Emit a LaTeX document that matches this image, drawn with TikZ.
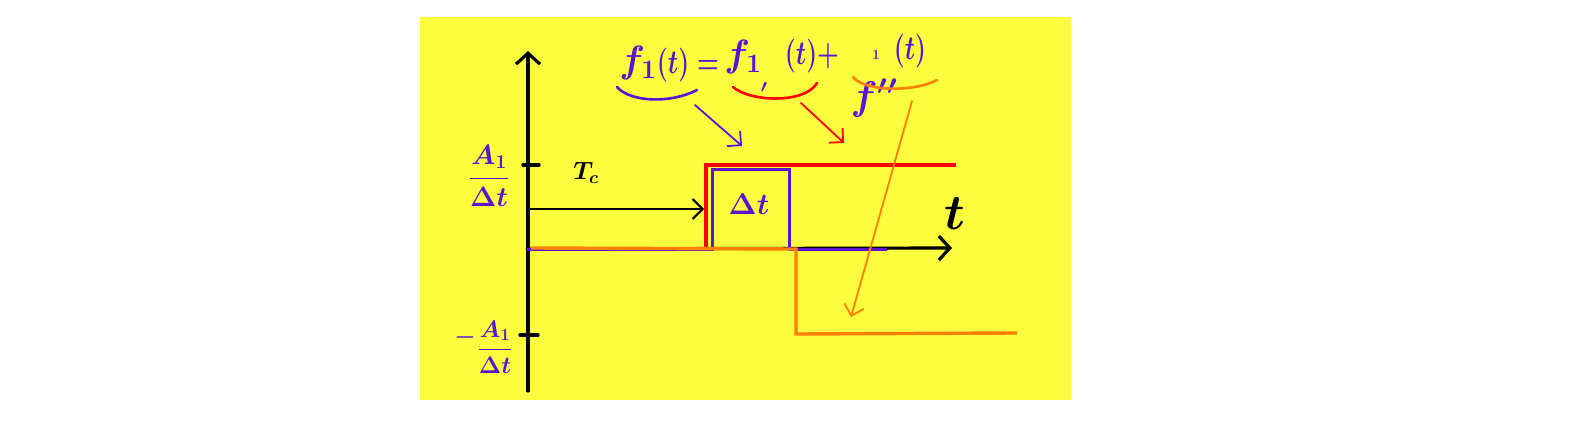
\RequirePackage{fix-cm}
\documentclass[tikz,border=0pt]{standalone}
\usepackage{amsmath}
\usepackage{graphicx}
\usetikzlibrary{arrows.meta}
\definecolor{bg}{HTML}{FDFD40}
\definecolor{pen}{HTML}{5A14D2}
\definecolor{rd}{HTML}{FF0000}
\definecolor{org}{HTML}{FF8000}
\begin{document}
\begin{tikzpicture}[x=1pt,y=-1pt,
  axis/.style={line width=3.2pt,line cap=round,black},
  barb/.style={-{Straight Barb[length=11pt,width=24pt]}},
  smallbarb/.style={-{Straight Barb[length=10pt,width=20pt]}},
  lbl/.style={inner sep=0pt,text=pen,font=\boldmath},
  brace/.style={line width=2.6pt,line cap=round},
  pointer/.style={line width=1.8pt,line cap=round,smallbarb}]
\useasboundingbox (0,0) rectangle (1580,425);
\fill[bg] (420,17) rectangle (1071,400);

% axes
\coordinate (O) at (527,249);
\coordinate (ytop) at (528,51);
\coordinate (ybot) at (528,391);
\coordinate (xend) at (952,248);
\draw[axis,barb] (ybot) -- (ytop);
\draw[axis,barb] (O) -- (xend);
\draw[axis] (523,165) -- (539,165);
\draw[axis] (520,335) -- (538,335);

% pulse f1 (blue)
\draw[pen,line width=3pt] (O) -- (712,249) -- (712,170) -- (789,170) -- (789,249) -- (887,249);
% step f1' (red)
\draw[rd,line width=4.2pt] (706,249) -- (706,165) -- (956,165);
% step f1'' (orange)
\draw[org,line width=3.4pt] (531,248) -- (796,249) -- (796,334) -- (1017,333);

% Tc arrow
\coordinate (tcs) at (528,209);
\coordinate (tce) at (704,209);
\draw[line width=2pt,smallbarb] (tcs) -- (tce);
\node[inner sep=0pt,font=\boldmath] (tc) at (586,173) {\fontsize{25}{27}\selectfont $T_c$};

% labels on axes
\node[lbl] (dt) at (749,204) {\fontsize{30}{32}\selectfont $\Delta t$};
\node[inner sep=0pt,font=\boldmath] (tlab) at (955,214) {\fontsize{50}{52}\selectfont $t$};
\node[lbl] (pA) at (489,176) {\fontsize{28}{30}\selectfont $\dfrac{A_1}{\Delta t}$};
\node[lbl] (mA) at (465,337) {\fontsize{24}{26}\selectfont $-$};
\node[lbl] (nA) at (495,347) {\fontsize{24}{26}\selectfont $\dfrac{A_1}{\Delta t}$};

% formula
\node[lbl] (f1) at (638,63) {\fontsize{38}{40}\selectfont $f_1$};
\node[lbl] (f1t) at (688,65) {\fontsize{25}{27}\selectfont \scalebox{1}[1.35]{$(t)=$}};
\node[lbl] (f2) at (743,57) {\fontsize{38}{40}\selectfont $f_1$};
\node[lbl] (cm) at (764,88) {\fontsize{18}{20}\selectfont $\prime$};
\node[lbl] (f2t) at (812,56) {\fontsize{25}{27}\selectfont \scalebox{1}[1.35]{$(t)+$}};
\node[lbl] (one) at (876,55) {\fontsize{14}{16}\selectfont $1$};
\node[lbl] (f3t) at (910,51) {\fontsize{25}{27}\selectfont \scalebox{1}[1.35]{$(t)$}};
\node[lbl] (f3) at (874,98) {\fontsize{40}{42}\selectfont $f''$};

% braces
\draw[brace,pen] (617,87) .. controls (630,102) and (670,104) .. (697,90);
\draw[brace,rd] (733,87) .. controls (750,102) and (805,104) .. (817,83);
\draw[brace,org] (853,77) .. controls (865,92) and (915,92) .. (937,80);

% pointers
\coordinate (bp1) at (695,105);
\coordinate (bp2) at (742,146);
\coordinate (rp1) at (801,103);
\coordinate (rp2) at (844,143);
\coordinate (op1) at (912,101);
\coordinate (op2) at (851,317);
\draw[pointer,pen] (bp1) -- (bp2);
\draw[pointer,rd] (rp1) -- (rp2);
\draw[pointer,org] (op1) -- (op2);
\end{tikzpicture}
\end{document}
